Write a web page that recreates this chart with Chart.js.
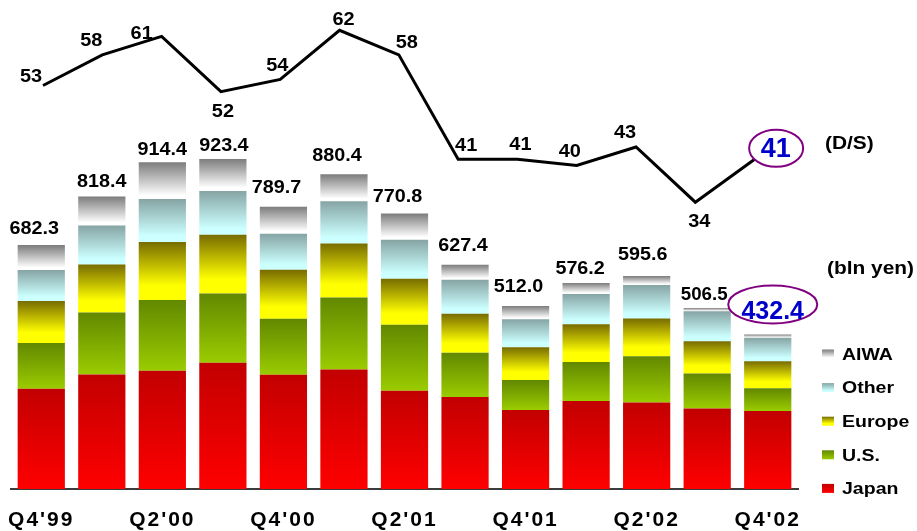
<!DOCTYPE html>
<html>
<head>
<meta charset="utf-8">
<script src="https://cdn.jsdelivr.net/npm/chart.js@4.4.1/dist/chart.umd.min.js"></script>
<style>
  html, body { margin: 0; padding: 0; background: #fff; }
  canvas { display: block; }
</style>
</head>
<body>
<canvas id="salesChart" width="917" height="531"></canvas>
<script>
// quarterly sales by region (bln yen) and D/S ratio
const quarters = ["Q4'99", "Q1'00", "Q2'00", "Q3'00", "Q4'00", "Q1'01", "Q2'01", "Q3'01", "Q4'01", "Q1'02", "Q2'02", "Q3'02", "Q4'02"];
const japan  = [280.2, 320.1, 330.6, 353.2, 319.8, 334.2, 275.0, 257.3, 221.2, 246.3, 241.8, 225.2, 218.1];
const us     = [128.5, 173.6, 198.3, 193.8, 156.6, 201.7, 184.5, 124.0, 83.6, 108.7, 129.8, 98.1, 64.0];
const europe = [117.3, 134.4, 162.0, 164.0, 137.1, 151.2, 128.6, 109.1, 92.0, 106.0, 105.5, 89.7, 75.2];
const other  = [86.6, 109.2, 120.1, 123.0, 100.7, 117.6, 109.0, 95.1, 78.1, 84.6, 93.4, 84.1, 65.9];
const aiwa   = [69.7, 81.1, 103.4, 89.4, 75.5, 75.7, 73.7, 41.9, 37.1, 30.6, 25.1, 9.4, 9.2];
const totals = [682.3, 818.4, 914.4, 923.4, 789.7, 880.4, 770.8, 627.4, 512.0, 576.2, 595.6, 506.5, 432.4];
const dsRatio = [53, 58, 61, 52, 54, 62, 58, 41, 41, 40, 43, 34, 41];

const FONT = "'Liberation Sans', Arial, Helvetica, sans-serif";
const stack = [japan, us, europe, other, aiwa];

// gradient stops per region, top of segment -> bottom of segment
const shades = [
    [[0, '#c20000'], [1, '#ff0000']],
    [[0, '#628800'], [1, '#9acc00']],
    [[0, '#776c00'], [0.75, '#ffff00'], [1, '#ffff00']],
    [[0, '#86a4a4'], [0.85, '#ccffff'], [1, '#ccffff']],
    [[0, '#7c7c7c'], [0.9, '#ffffff'], [1, '#ffffff']]
];

function makeGradient(ctx, top, bottom, stops) {
    const g = ctx.createLinearGradient(0, top, 0, bottom);
    stops.forEach(s => g.addColorStop(s[0], s[1]));
    return g;
}

// each segment gets its own vertical gradient
function segmentFill(level) {
    return function (context) {
        const chart = context.chart;
        const yScale = chart.scales.y;
        const fallback = shades[level][0][1];
        if (!yScale || context.type !== 'data') return fallback;
        const i = context.dataIndex;
        let lower = 0;
        for (let k = 0; k < level; k++) lower += stack[k][i];
        const top = yScale.getPixelForValue(lower + stack[level][i]);
        const bottom = yScale.getPixelForValue(lower);
        if (!isFinite(top) || !isFinite(bottom)) return fallback;
        return makeGradient(chart.ctx, top, bottom, shades[level]);
    };
}

function drawText(ctx, text, x, y, size, opts) {
    opts = opts || {};
    ctx.save();
    ctx.translate(x, y);
    ctx.scale(opts.stretch || 1, 1);
    ctx.font = 'bold ' + size + 'px ' + FONT;
    ctx.fillStyle = opts.color || '#000';
    ctx.textAlign = opts.align || 'center';
    ctx.textBaseline = 'alphabetic';
    // y is the visual middle of the digits/caps
    ctx.fillText(text, 0, size * 0.36);
    ctx.restore();
}

function ellipse(ctx, cx, cy, rx, ry) {
    ctx.save();
    ctx.beginPath();
    ctx.ellipse(cx, cy, rx, ry, 0, 0, Math.PI * 2);
    ctx.fillStyle = '#fff';
    ctx.fill();
    ctx.lineWidth = 2;
    ctx.strokeStyle = '#800080';
    ctx.stroke();
    ctx.restore();
}

// where each total sits relative to its stack: [dx, gap above bar]
const totalPlace = [[-7, 11], [0, 9], [0, 7], [1, 8], [-7, 14], [-7, 13], [-7, 11], [-2, 14], [-7, 14], [-6, 9], [-4, 16], [-3, 7]];
// D/S label centre relative to its point
const ratioPlace = [[-12, -10], [-11, -16], [-20, -4], [2, 18], [-3, -15], [4, -12], [8, -14], [8, -15], [3, -16], [-7, -15], [-11, -16], [4, 18]];

const tickSpacing = {
    id: 'tickSpacing',
    beforeDraw(chart) { chart.ctx.letterSpacing = '2px'; },
    beforeDatasetsDraw(chart) { chart.ctx.letterSpacing = '0px'; }
};

const annotations = {
    id: 'annotations',
    afterDatasetsDraw(chart) {
        const ctx = chart.ctx;
        const last = quarters.length - 1;

        // stack totals
        const topMeta = chart.getDatasetMeta(4);
        topMeta.data.forEach((bar, i) => {
            if (i === last) return;
            const p = totalPlace[i];
            const size = i === 11 ? 18 : 19;
            drawText(ctx, totals[i].toFixed(1), bar.x + p[0], bar.y - p[1] - 7, size, { stretch: 1.04 });
        });
        const lastBar = topMeta.data[last];
        ellipse(ctx, lastBar.x + 5, lastBar.y - 30, 44.5, 19);
        drawText(ctx, totals[last].toFixed(1), lastBar.x + 5, lastBar.y - 24, 25, { color: '#0000cc' });

        // D/S values
        const lineMeta = chart.getDatasetMeta(5);
        lineMeta.data.forEach((pt, i) => {
            if (i === last) return;
            const p = ratioPlace[i];
            drawText(ctx, String(dsRatio[i]), pt.x + p[0], pt.y + p[1], 19, { stretch: 1.05 });
        });
        const lastPt = lineMeta.data[last];
        ellipse(ctx, lastPt.x + 21.5, lastPt.y - 11, 27, 18.5);
        drawText(ctx, String(dsRatio[last]), lastPt.x + 21, lastPt.y - 11.5, 27, { color: '#0000cc' });

        // unit captions
        drawText(ctx, '(D/S)', 825, 142, 19, { align: 'left', stretch: 1.1 });
        drawText(ctx, '(bln yen)', 827, 267, 19, { align: 'left', stretch: 1.1 });

        // legend, top series first
        const legendTop = 354;
        for (let k = 4; k >= 0; k--) {
            const y = legendTop + (4 - k) * 33.6;
            ctx.fillStyle = makeGradient(ctx, y - 4.5, y + 4.5, shades[k]);
            ctx.fillRect(822, y - 4.5, 12, 9);
            drawText(ctx, chart.data.datasets[k].label, 842, y, 16, { align: 'left', stretch: 1.22 });
        }
    }
};

Chart.defaults.font.family = FONT;

const barNames = ['Japan', 'U.S.', 'Europe', 'Other', 'AIWA'];
const barSets = stack.map((values, level) => ({
    type: 'bar',
    label: barNames[level],
    data: values,
    backgroundColor: segmentFill(level),
    borderWidth: 0,
    barPercentage: 0.78,
    categoryPercentage: 1,
    grouped: false,
    stack: 'sales',
    xAxisID: 'x',
    yAxisID: 'y',
    order: 2
}));

new Chart(document.getElementById('salesChart').getContext('2d'), {
    data: {
        labels: quarters,
        datasets: barSets.concat([{
            type: 'line',
            label: 'D/S',
            data: dsRatio.map((v, i) => ({ x: i, y: v })),
            borderColor: '#000',
            borderWidth: 3,
            pointRadius: 0,
            tension: 0,
            fill: false,
            xAxisID: 'xLine',
            yAxisID: 'yRatio',
            order: 1
        }])
    },
    options: {
        responsive: false,
        animation: false,
        events: [],
        layout: { padding: { top: 10, left: 11, right: 119, bottom: 0 } },
        plugins: {
            legend: { display: false },
            tooltip: { enabled: false }
        },
        scales: {
            x: {
                stacked: true,
                offset: true,
                grid: { display: false, drawTicks: false },
                border: { display: true, color: '#3c3c3c', width: 2 },
                ticks: {
                    autoSkip: false,
                    maxRotation: 0,
                    padding: 19,
                    color: '#000',
                    font: { size: 21, weight: 'bold' },
                    callback: (val, i) => (i % 2 === 0 ? quarters[i] : '')
                },
                afterFit(scale) {
                    scale.height = 42;
                    scale.paddingLeft = 0;
                    scale.paddingRight = 0;
                }
            },
            y: { stacked: true, display: false, min: 0, max: 1340 },
            xLine: { type: 'linear', display: false, min: -0.54, max: 12.731 },
            yRatio: { type: 'linear', display: false, min: -12.7, max: 65.3 }
        }
    },
    plugins: [tickSpacing, annotations]
});
</script>
</body>
</html>
